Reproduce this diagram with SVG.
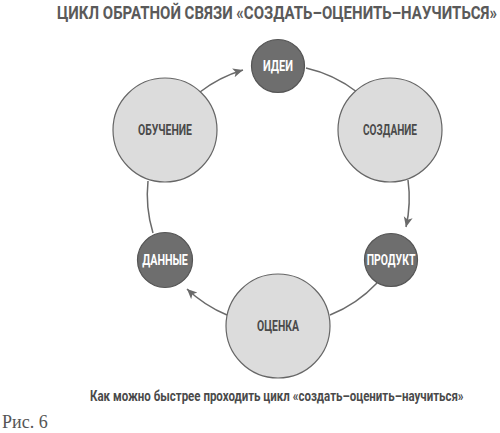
<svg xmlns="http://www.w3.org/2000/svg" width="500" height="433" viewBox="0 0 500 433">
<defs>
<style>
.t{font-family:"Roboto","Liberation Sans",sans-serif;font-weight:bold;}
.title{font-size:18.5px;fill:#5a5a5a;}
.cap{font-size:14px;fill:#4a4a4a;}
.lbl{font-size:14px;text-anchor:middle;}
.dark circle{fill:#6e6e6e;stroke:#555;stroke-width:1.2;}
.dark text{fill:#fff;}
.light circle{fill:#dcdcdc;stroke:#666;stroke-width:1.2;}
.light text{fill:#4a4a4a;}
.conn path{fill:none;stroke:#6a6a6a;stroke-width:1.5;}
</style>
<marker id="ah" markerUnits="userSpaceOnUse" markerWidth="12" markerHeight="10" refX="10" refY="4.5" orient="auto">
<path d="M0,0 L10,4.5 L0,9 L2.5,4.5 z" fill="#6a6a6a"/>
</marker>
</defs>
<rect width="500" height="433" fill="#fff"/>
<text class="t title" transform="translate(57,18.5) scale(0.8,1)" x="0" y="0" textLength="550" lengthAdjust="spacingAndGlyphs">ЦИКЛ ОБРАТНОЙ СВЯЗИ «СОЗДАТЬ–ОЦЕНИТЬ–НАУЧИТЬСЯ»</text>
<g id="connectors" class="conn">
<path d="M306,68 A131,131 0 0 1 357,92"/>
<path d="M408,180 A131,131 0 0 1 406,227" marker-end="url(#ah)"/>
<path d="M377,283 A131,131 0 0 1 330,315"/>
<path d="M227,315 A131,131 0 0 1 187,289" marker-end="url(#ah)"/>
<path d="M153,233 A131,131 0 0 1 148,181"/>
<path d="M200,92 A131,131 0 0 1 243,70" marker-end="url(#ah)"/>
</g>
<g id="idei" class="dark"><circle cx="278" cy="66" r="26.5"/><text class="t lbl" transform="translate(278,71) scale(0.75,1)" x="0" y="0" textLength="40" lengthAdjust="spacingAndGlyphs">ИДЕИ</text></g>
<g id="obuchenie" class="light"><circle cx="165" cy="130" r="52"/><text class="t lbl" transform="translate(165,135) scale(0.75,1)" x="0" y="0" textLength="72" lengthAdjust="spacingAndGlyphs">ОБУЧЕНИЕ</text></g>
<g id="sozdanie" class="light"><circle cx="390" cy="130" r="52"/><text class="t lbl" transform="translate(390,135) scale(0.75,1)" x="0" y="0" textLength="72" lengthAdjust="spacingAndGlyphs">СОЗДАНИЕ</text></g>
<g id="produkt" class="dark"><circle cx="391" cy="260" r="26.5"/><text class="t lbl" transform="translate(391,265) scale(0.75,1)" x="0" y="0" textLength="65" lengthAdjust="spacingAndGlyphs">ПРОДУКТ</text></g>
<g id="dannye" class="dark"><circle cx="165" cy="260" r="27.5"/><text class="t lbl" transform="translate(165,265) scale(0.75,1)" x="0" y="0" textLength="61" lengthAdjust="spacingAndGlyphs">ДАННЫЕ</text></g>
<g id="ocenka" class="light"><circle cx="278" cy="326" r="52"/><text class="t lbl" transform="translate(278,331) scale(0.75,1)" x="0" y="0" textLength="56" lengthAdjust="spacingAndGlyphs">ОЦЕНКА</text></g>
<text class="t cap" transform="translate(90,401) scale(0.8,1)" x="0" y="0" textLength="467" lengthAdjust="spacingAndGlyphs">Как можно быстрее проходить цикл «создать–оценить–научиться»</text>
<text x="2" y="428" font-family="Liberation Serif, serif" font-size="18" fill="#555">Рис. 6</text>
</svg>
